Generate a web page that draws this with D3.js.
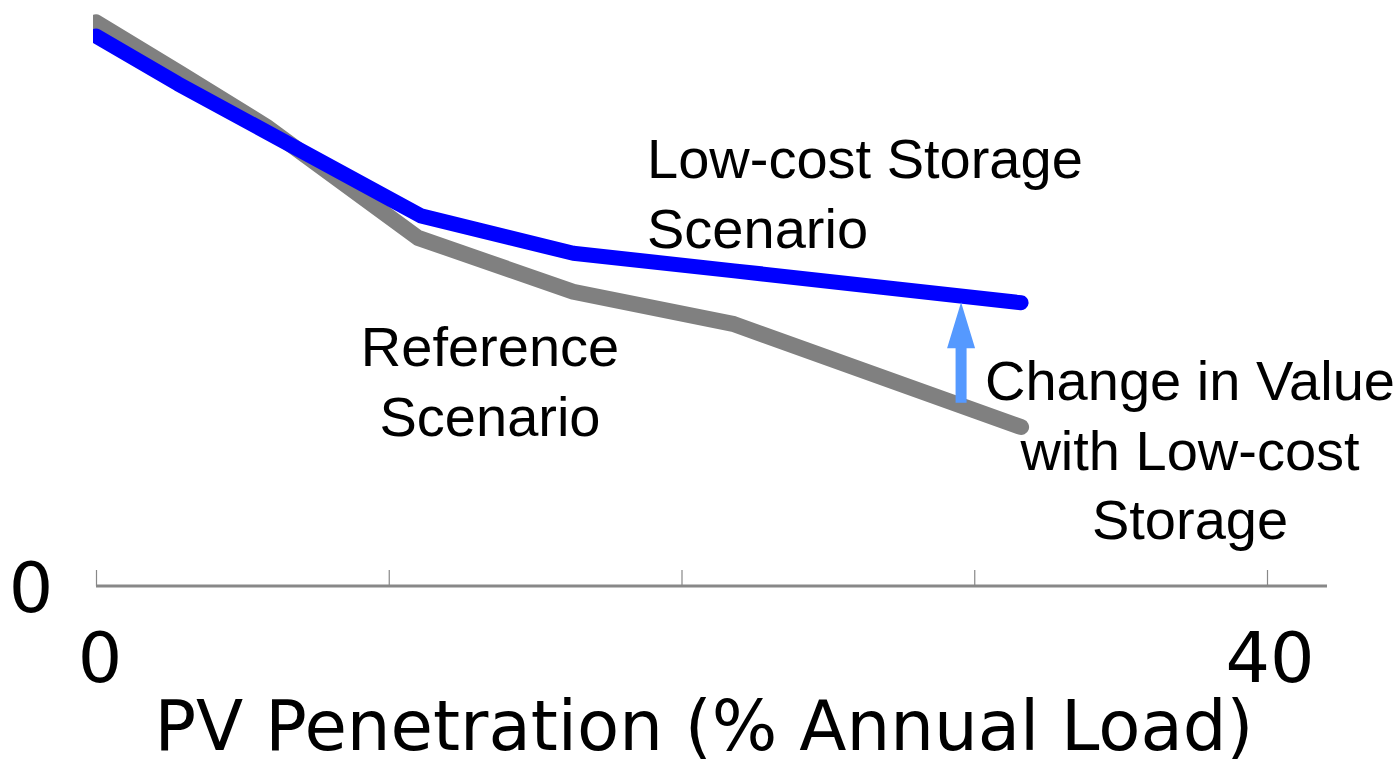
<!DOCTYPE html>
<html>
<head>
<meta charset="utf-8">
<script src="https://cdn.jsdelivr.net/npm/d3@7"></script>
<style>
  html, body { margin: 0; padding: 0; background: #fff; }
  svg { display: block; }
</style>
</head>
<body>
<script>
// ---- data ----
const refX    = [0, 2.9, 5.8, 11.0, 16.3, 21.8, 31.6];
const refY    = [102.5, 93.1, 83.6, 63.3, 53.5, 47.6, 28.9];
const storX   = [0, 2.8, 11.1, 16.3, 21.8, 31.6];
const storY   = [100.0, 91.3, 67.3, 60.5, 57.3, 51.5];
const xTicks  = [0, 10, 20, 30, 40];
const xTickLabels = ["0", "", "", "", "40"];
const yTickLabels = ["0"];
const arrowX = 29.55, arrowFrom = 33.3, arrowTo = 51.6;

const W = 1400, H = 767;
const svg = d3.select("body").append("svg").attr("width", W).attr("height", H);

const x = d3.scaleLinear().domain([0, 40]).range([96, 1267]);
const y = d3.scaleLinear().domain([0, 100]).range([586, 36]);

// axis
const axisG = svg.append("g").attr("transform", `translate(0,${y(0)})`);
axisG.append("line").attr("x1", x(0)).attr("x2", 1327).attr("y1", 0).attr("y2", 0)
  .attr("stroke", "#888").attr("stroke-width", 3);
const xAxis = d3.axisTop(x).tickValues(xTicks).tickSize(16).tickFormat("");
const ax = axisG.append("g").call(xAxis);
ax.select(".domain").remove();
ax.selectAll(".tick line").attr("stroke", "#888").attr("stroke-width", 1.2);

// tick labels
svg.selectAll("text.xt").data(xTicks.map((v, i) => ({v, l: xTickLabels[i]})).filter(d => d.l))
  .enter().append("text").attr("class", "xt")
  .attr("x", d => x(d.v) + (d.v === 0 ? 4 : 3)).attr("y", 682)
  .attr("text-anchor", "middle")
  .style("font-family", "DejaVu Sans").style("font-size", "70px").attr("fill", "#000")
  .text(d => d.l);
svg.append("text").attr("x", 31).attr("y", 612).attr("text-anchor", "middle")
  .style("font-family", "DejaVu Sans").style("font-size", "70px").attr("fill", "#000")
  .text(yTickLabels[0]);
svg.append("text").attr("x", 704).attr("y", 750).attr("text-anchor", "middle")
  .style("font-family", "DejaVu Sans").style("font-size", "69px").attr("fill", "#000")
  .text("PV Penetration (% Annual Load)");

// clip
svg.append("clipPath").attr("id", "clip").append("rect")
  .attr("x", 93).attr("y", 0).attr("width", W).attr("height", H);

const line = d3.line().x(d => x(d[0])).y(d => y(d[1]));
const plot = svg.append("g").attr("clip-path", "url(#clip)");
plot.append("path").datum(d3.zip(refX, refY)).attr("d", line)
  .attr("fill", "none").attr("stroke", "#808080").attr("stroke-width", 16)
  .attr("stroke-linecap", "round").attr("stroke-linejoin", "round");
plot.append("path").datum(d3.zip(storX, storY)).attr("d", line)
  .attr("fill", "none").attr("stroke", "#0000ff").attr("stroke-width", 15)
  .attr("stroke-linecap", "round").attr("stroke-linejoin", "round");

// arrow
const ax0 = x(arrowX), yb = y(arrowFrom), yt = y(arrowTo);
const headLen = 46, headHalf = 14, shaftHalf = 5.5;
svg.append("path")
  .attr("d", `M${ax0 - shaftHalf},${yb} L${ax0 - shaftHalf},${yt + headLen} L${ax0 - headHalf},${yt + headLen} L${ax0},${yt} L${ax0 + headHalf},${yt + headLen} L${ax0 + shaftHalf},${yt + headLen} L${ax0 + shaftHalf},${yb} Z`)
  .attr("fill", "#5599ff");

// annotations
function label(lines, xPos, y0, anchor) {
  const t = svg.append("text").attr("text-anchor", anchor)
    .style("font-family", "Liberation Sans, Arial").style("font-size", "56px").attr("fill", "#000");
  lines.forEach((l, i) => t.append("tspan").attr("x", xPos).attr("y", y0 + i * 69.5).text(l));
}
label(["Low-cost Storage", "Scenario"], 647, 178, "start");
label(["Reference", "Scenario"], 490, 366, "middle");
label(["Change in Value", "with Low-cost", "Storage"], 1190, 400, "middle");
</script>
</body>
</html>
